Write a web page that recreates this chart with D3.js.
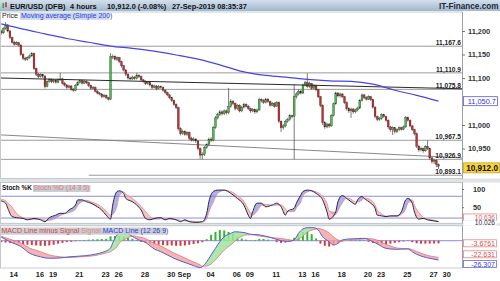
<!DOCTYPE html>
<html><head><meta charset="utf-8">
<script src="https://cdn.jsdelivr.net/npm/d3@7"></script>
<style>body{margin:0;background:#fff;overflow:hidden}svg{display:block;font-family:"Liberation Sans",Arial,sans-serif}</style>
</head><body><svg id="c" width="500" height="281"></svg>
<script>
// ---------- DATA ----------
const firstOpen = 11200;
const closes = [11196,11205,11213,11200,11186,11176,11172,11175,11170,11150,
11142,11140,11143,11147,11152,11120,11108,11103,11107,11104,
11082,11093,11097,11092,11095,11091,11096,11098,11089,11085,
11080,11083,11076,11074,11085,11090,11094,11089,11093,11090,
11084,11078,11080,11072,11068,11066,11060,11063,11058,11055,
11145,11146,11140,11143,11135,11126,11117,11108,11100,11098,
11102,11099,11106,11103,11096,11093,11088,11090,11085,11080,
11083,11078,11082,11080,11074,11069,11064,11058,11052,11044,
11037,10992,10982,10986,10980,10984,10972,10968,10970,10966,
10950,10936,10938,10952,10958,10970,10968,10995,11015,11022,
11028,11024,11030,11026,11040,11050,11046,11035,11042,11030,
11038,11044,11040,11035,11030,11033,11028,11032,11054,11052,
11048,11055,11050,11042,11046,11040,11048,11008,10994,10998,
11008,11012,11020,11018,11060,11066,11072,11068,11085,11090,
11082,11088,11078,11084,11075,11060,11042,11005,10996,11002,
10998,11020,11045,11068,11062,11066,11060,11048,11035,11030,
11034,11028,11032,11036,11052,11064,11058,11055,11060,11054,
11038,11018,11012,11014,11022,11018,11010,10996,10990,10994,
10986,10990,10994,10991,10996,11016,11010,10998,10990,10982,
10955,10947,10950,10945,10954,10950,10930,10922,10925,10916,
10912];
const highs = [11203,11208,11219,11215,11202,11188,11179,11178,11177,11172,
11153,11145,11146,11150,11155,11154,11122,11111,11110,11109,
11106,11095,11100,11099,11098,11097,11099,11111,11100,11092,
11087,11086,11085,11079,11087,11093,11097,11096,11096,11095,
11092,11086,11083,11082,11074,11070,11068,11066,11065,11060,
11153,11150,11148,11146,11145,11137,11128,11119,11110,11103,
11105,11104,11111,11108,11105,11098,11095,11093,11092,11087,
11086,11085,11085,11084,11082,11076,11071,11066,11060,11054,
11046,11039,10995,10990,10989,10987,10986,10975,10974,10972,
10968,10952,10942,10955,10961,10973,10974,10998,11019,11026,
11032,11031,11033,11033,11079,11055,11053,11048,11045,11044,
11041,11047,11046,11043,11037,11036,11035,11035,11058,11057,
11055,11058,11057,11052,11049,11048,11051,11050,11010,11002,
11011,11015,11023,11022,11087,11070,11076,11075,11088,11094,
11110,11092,11090,11087,11086,11077,11062,11044,11008,11005,
11004,11023,11048,11071,11070,11069,11068,11062,11050,11038,
11037,11036,11035,11039,11055,11067,11066,11061,11063,11062,
11056,11040,11020,11017,11025,11024,11020,11012,10998,10997,
10996,10993,10997,10996,10999,11019,11018,11012,11000,10992,
10984,10958,10954,10952,10957,10967,10952,10932,10928,10927,
10918];
const lows = [11192,11194,11203,11197,11183,11173,11169,11170,11167,11147,
11138,11136,11137,11141,11145,11117,11104,11100,11101,11100,
11078,11080,11090,11089,11089,11088,11089,11094,11086,11082,
11077,11078,11073,11071,11072,11083,11088,11086,11087,11087,
11081,11075,11076,11069,11065,11063,11057,11058,11055,11052,
11053,11140,11137,11136,11132,11122,11114,11104,11097,11095,
11096,11096,11097,11100,11093,11090,11085,11086,11082,11076,
11078,11074,11076,11077,11071,11066,11061,11055,11049,11041,
11034,10988,10978,10979,10977,10977,10968,10965,10965,10962,
10946,10928,10927,10934,10949,10955,10964,10965,10992,11012,
11019,11020,11021,11022,11023,11037,11042,11031,11032,11027,
11027,11035,11037,11032,11026,11027,11024,11025,11030,11048,
11045,11046,11047,11039,11040,11037,11038,11004,10985,10990,
10995,11005,11009,11014,10927,11056,11063,11065,11066,11082,
11079,11079,11075,11076,11072,11057,11038,11000,10992,10993,
10994,10996,11018,11043,11059,11058,11057,11045,11031,11026,
11015,11024,11025,11029,11034,11050,11055,11052,11053,11051,
11035,11014,11008,11009,11011,11015,11007,10992,10986,10979,
10982,10983,10987,10988,10989,10994,11007,10995,10987,10978,
10951,10943,10944,10941,10943,10947,10926,10918,10917,10910,
10906];

const maIdx = [0,10,20,30,40,50,60,70,80,90,100,110,120,130,140,150,160,170,180,190,200];
const maVals = [11215,11204,11194,11184,11176,11168,11163,11157,11149,11140,11128,11114,11106,11102,11097,11094,11093,11087,11074,11063,11050.7];

const levels = [11167.6, 11110.9, 11075.8, 10967.5, 10926.9, 10893.1];
const levelFrom = [-0.55, -0.55, -0.55, -0.55, -0.55, 40];
const trendDark = [[-0.55, 11100], [210.75, 11077]];
const trendGrey = [[-0.55, 10979], [210.75, 10930]];

const priceTicks = [11200, 11150, 11100, 11000, 10950];
const lastPrice = 10912.0;
const maLast = 11050.7;

const dayLabels = ["14","16","19","21","23","26","28","30","Sep","04","06","09","11","13","16","18","20","23","25","27","30"];
const dayOffsets = [0,2,3,5,7,8,10,12,13,15,17,18,20,22,23,25,27,28,30,32,33];

const stochIdx = [0,2,3,5,7,10,12,15,18,20,22,25,27,29,31,34,35,37,39,41,44,46,48,50,51,53,54,56,57,60,62,64,66,68,70,73,75,77,80,82,84,86,89,92,94,95,97,99,102,105,108,111,113,114,115,117,119,121,124,126,128,130,131,134,135,137,138,140,142,144,147,149,150,153,154,156,158,160,162,163,165,166,169,171,172,174,176,178,181,183,185,186,188,189,191,193,195,198,200];
const stochK = [67,61,47,24,21,19,15,19,15,10,21,28,33,33,42,56,70,70,65,61,51,42,28,17,56,93,95,88,74,65,56,42,19,15,19,21,15,19,15,10,15,10,8,10,33,65,93,97,97,88,74,56,28,19,37,61,61,51,56,61,51,28,39,47,61,83,93,97,95,88,70,37,17,37,65,82,74,65,58,70,79,74,61,47,28,26,24,26,26,37,70,74,61,37,17,19,15,12,10.026];
const stochD = [72,68,62,50,33,21,18,17,17,14,14,20,27,32,35,44,55,65,69,65,58,50,39,28,30,55,82,92,86,74,64,52,38,24,17,18,18,17,16,14,12,12,10,9,18,37,64,88,96,93,82,66,44,34,28,39,55,58,55,56,56,45,38,38,48,64,81,92,95,92,80,60,40,30,40,62,75,72,64,64,70,75,70,56,42,32,25,25,25,30,45,62,70,55,35,22,17,14,10.636];
const stochTicks = [100, 50];

const macdIdx = [0,4,9,13,18,22,27,31,36,41,45,48,50,51,53,54,57,59,61,63,66,68,70,73,76,79,82,85,88,91,92,94,96,98,100,102,105,107,109,112,114,118,123,128,131,134,136,138,140,143,145,147,150,152,154,156,159,161,163,166,168,170,173,175,178,181,183,186,188,190,193,196,200];
const macdLine = [5,-1.4,-8,-17,-22,-24,-23.5,-22,-21,-19.5,-17,-14,-10,-3,7.8,10,10.5,7.8,4,1,-2.2,-6.8,-11.3,-15,-19.5,-24,-27.6,-30.7,-34,-36.7,-35.4,-28.6,-19.5,-10.3,-1.3,5.4,10,12.2,11.8,10.5,8.8,8,4.6,0,-1,1,10,16,17.7,17.7,14.6,5.4,-1.4,-5.9,-3.6,1,2.3,2.5,3,3.2,1.5,-1.4,-5.9,-9.5,-11.3,-11.7,-11.5,-11.3,-15,-18.5,-21.8,-24,-26.307];
const signalLine = [6,2,-3,-10,-15,-19.5,-22,-23,-22,-21,-19,-16.7,-15,-13,-8,-3,2.3,5.7,6.4,5,3,-0.4,-3.8,-7.2,-12,-16.7,-20.8,-25,-29,-33,-34.7,-34.4,-31.7,-26,-19.5,-12.7,-5.8,-0.4,4.4,7.8,8.3,6.4,4.5,3,1.6,0.3,2.3,6.4,11.8,15.2,16.6,15.2,10.5,5,1,-0.4,1,1,1.6,2.3,3,2.3,-0.4,-3.8,-7.2,-9.9,-10.6,-10.8,-12,-14.7,-18.1,-20.8,-22.631];
const histStep = 2;
const hist = [-2,-2.5,-3,-3.5,-4,-5,-5.5,-6,-6.5,-7,
-7,-6.5,-5.5,-4,-3,-2,-1.5,-0.8,0.5,1,
1.5,1.8,2,2.3,2.5,6,6.5,6.5,5.5,4,
2.5,1,-1.5,-3,-4,-5,-5.5,-6,-6.5,-6.5,
-7,-7,-6.5,-5.5,-4.5,-3.5,-2,2,8,12,
14.5,14,12,9,5.5,3,1.5,0.5,1,2.5,
2.5,1.5,0,-2,-3,-2.5,-1,4,9,12,
12,9,3,-4,-7,-8,-6,-3,-1,0.5,
1.5,1.5,1,0.5,-1.5,-3,-4.5,-5,-5,-4,
-3,-2,-1,-0.5,-2,-3.5,-4,-4,-4,-3.8,
-3.6761];

// ---------- CHART ----------
const svg = d3.select("#c");
const defs = svg.append("defs");
const g1 = defs.append("linearGradient").attr("id","hdr").attr("x1",0).attr("y1",0).attr("x2",0).attr("y2",1);
g1.append("stop").attr("offset","0%").attr("stop-color","#d3e0ec");
g1.append("stop").attr("offset","100%").attr("stop-color","#9fb8cf");

const RX = 462;
const xS = d3.scaleLinear().domain([-0.55, 210.75]).range([0, RX]);
const yP = d3.scaleLinear().domain([11000, 11200]).range([125, 31]);
const yS = d3.scaleLinear().domain([0, 100]).range([225.3, 189]);
const yM = d3.scaleLinear().domain([0, -26.307]).range([240.7, 260]);

function clip(id, y0, y1){
  defs.append("clipPath").attr("id",id).append("rect").attr("x",1).attr("y",y0).attr("width",RX-1).attr("height",y1-y0);
}
clip("cpP", 12, 178.5); clip("cpS", 183, 223.5); clip("cpM", 226, 268);

// backgrounds and separators
svg.append("rect").attr("width",500).attr("height",281).attr("fill","#fff");
svg.append("rect").attr("x",0).attr("y",178.5).attr("width",500).attr("height",4).attr("fill","#dfe3e7");
svg.append("rect").attr("x",0).attr("y",223.3).attr("width",500).attr("height",2.5).attr("fill","#dfe3e7");
[[12,178.5],[182.5,223.3],[225.8,268]].forEach(([a,b])=>{
  svg.append("rect").attr("x",0.5).attr("y",a).attr("width",RX).attr("height",b-a)
    .attr("fill","none").attr("stroke","#b8bec4").attr("stroke-width",0.8);
});

// header
svg.append("rect").attr("x",0).attr("y",0).attr("width",500).attr("height",11).attr("fill","url(#hdr)");
svg.append("rect").attr("x",2.5).attr("y",3).attr("width",1.6).attr("height",5).attr("fill","#2faa2f");
svg.append("rect").attr("x",5.2).attr("y",2.2).attr("width",1.6).attr("height",5).attr("fill","#d23030");
const hdr = [["EUR/USD (DFB)",10],["4 hours",70],["10,912.0 (-0.08%)",107],["27-Sep-2019 08:35:37",172]];
hdr.forEach(([t,x])=>svg.append("text").attr("x",x).attr("y",8.5).attr("font-size",7.4).attr("font-weight","bold").attr("fill","#111").text(t));
svg.append("text").attr("x",498.5).attr("y",8.6).attr("text-anchor","end").attr("font-size",8.2).attr("font-weight","bold").attr("fill","#1d2a36").text("IT-Finance.com");

// ---- price panel ----
const gp = svg.append("g").attr("clip-path","url(#cpP)");
levels.forEach((v,k)=>{
  gp.append("line").attr("x1",xS(levelFrom[k])).attr("x2",RX).attr("y1",yP(v)).attr("y2",yP(v))
    .attr("stroke","#8e8e8e").attr("stroke-width",0.9);
});
gp.append("line").attr("x1",xS(trendGrey[0][0])).attr("y1",yP(trendGrey[0][1])).attr("x2",xS(trendGrey[1][0])).attr("y2",yP(trendGrey[1][1]))
  .attr("stroke","#7a7a7a").attr("stroke-width",0.9);

const opens = [firstOpen].concat(closes.slice(0,-1));
const idx = d3.range(closes.length);
gp.selectAll("line.wick").data(idx).join("line").attr("class","wick")
  .attr("x1",i=>xS(i)).attr("x2",i=>xS(i)).attr("y1",i=>yP(highs[i])).attr("y2",i=>yP(lows[i]))
  .attr("stroke","#444").attr("stroke-width",0.7);
gp.selectAll("rect.body").data(idx).join("rect").attr("class","body")
  .attr("x",i=>xS(i)-0.9).attr("width",1.8)
  .attr("y",i=>yP(Math.max(opens[i],closes[i])))
  .attr("height",i=>Math.max(0.8, Math.abs(yP(opens[i])-yP(closes[i]))))
  .attr("fill",i=>closes[i]>=opens[i]?"#46c046":"#d02a2a")
  .attr("stroke","#2a2a2a").attr("stroke-width",0.35);

gp.append("line").attr("x1",xS(trendDark[0][0])).attr("y1",yP(trendDark[0][1])).attr("x2",xS(trendDark[1][0])).attr("y2",yP(trendDark[1][1]))
  .attr("stroke","#2a2a2a").attr("stroke-width",1.1);

const maLine = d3.line().x((d,k)=>xS(maIdx[k])).y(d=>yP(d)).curve(d3.curveMonotoneX);
gp.append("path").attr("d",maLine(maVals)).attr("fill","none").attr("stroke","#4646e6").attr("stroke-width",1.2);

// level labels
levels.forEach(v=>{
  svg.append("text").attr("x",RX-1).attr("y",yP(v)-1.3).attr("text-anchor","end")
    .attr("font-size",6.6).attr("font-weight","bold").attr("fill","#222").text(d3.format(",.1f")(v));
});
// price title
svg.append("text").attr("x",2).attr("y",18.3).attr("font-size",7).attr("fill","#222").text("Price");
svg.append("rect").attr("x",20).attr("y",12.8).attr("width",89).attr("height",7).attr("fill","#cdd7ec");
svg.append("text").attr("x",21).attr("y",18.3).attr("font-size",7).attr("fill","#2b3fdc").text("Moving average (Simple 200)");

// right price axis
const axP = svg.append("g").attr("transform",`translate(${RX},0)`)
  .call(d3.axisRight(yP).tickValues(priceTicks).tickSize(3).tickFormat(d3.format(",")));
axP.select(".domain").attr("stroke","#9aa0a6").attr("d","M0.5,12V178.5");
axP.selectAll(".tick line").attr("stroke","#777");
axP.selectAll(".tick text").attr("x",6).attr("font-size",7.4).attr("font-weight","bold").attr("fill","#333").attr("font-family","Liberation Sans, Arial, sans-serif");

function valBox(y, txt, opt){
  const w = opt.w || 35;
  svg.append("rect").attr("x",opt.x||463.5).attr("y",y-opt.h/2).attr("width",w).attr("height",opt.h)
    .attr("fill",opt.fill).attr("stroke",opt.stroke||"none").attr("stroke-width",0.8);
  svg.append("text").attr("x",(opt.x||463.5)+w-1.5).attr("y",y+opt.fs*0.36).attr("text-anchor","end")
    .attr("font-size",opt.fs).attr("font-weight",opt.bold?"bold":"normal").attr("fill",opt.color).text(txt);
}
valBox(yP(maLast), d3.format(",.1f")(maLast), {h:9,fill:"#fff",stroke:"#5a5ae6",color:"#3434d8",fs:7.4,bold:false,w:34});
valBox(yP(lastPrice)+1.5, d3.format(",.1f")(lastPrice), {h:10,fill:"#f7d43c",stroke:"#c9a920",color:"#111",fs:8.2,bold:true,w:36});

// ---- stochastic panel ----
const gs = svg.append("g").attr("clip-path","url(#cpS)");
[80,20].forEach(v=>gs.append("line").attr("x1",0).attr("x2",RX).attr("y1",yS(v)).attr("y2",yS(v)).attr("stroke","#8c8ce0").attr("stroke-width",1));
const sPts = stochIdx.map((i,k)=>({i,k:stochK[k],d:stochD[k]}));
const cv = d3.curveMonotoneX;
gs.append("path").attr("d",d3.area().x(p=>xS(p.i)).y0(p=>yS(p.d)).y1(p=>yS(Math.max(p.k,p.d))).curve(cv)(sPts))
  .attr("fill","#7a7ae0").attr("opacity",0.6);
gs.append("path").attr("d",d3.area().x(p=>xS(p.i)).y0(p=>yS(p.d)).y1(p=>yS(Math.min(p.k,p.d))).curve(cv)(sPts))
  .attr("fill","#f2a8a8").attr("opacity",0.7);
gs.append("path").attr("d",d3.line().x(p=>xS(p.i)).y(p=>yS(p.d)).curve(cv)(sPts)).attr("fill","none").attr("stroke","#e59090").attr("stroke-width",0.9);
gs.append("path").attr("d",d3.line().x(p=>xS(p.i)).y(p=>yS(p.k)).curve(cv)(sPts)).attr("fill","none").attr("stroke","#23264a").attr("stroke-width",1);

svg.append("text").attr("x",2).attr("y",190.3).attr("font-size",6.4).attr("font-weight","bold").attr("fill","#111").text("Stoch %K");
svg.append("rect").attr("x",33).attr("y",185).attr("width",57.5).attr("height",7).attr("fill","#c9ced4");
svg.append("text").attr("x",33.8).attr("y",190.3).attr("font-size",6.8).attr("fill","#e07a7a").text("Stoch %D (14 3 5)");

const axS = svg.append("g").attr("transform",`translate(${RX},0)`)
  .call(d3.axisRight(yS).tickValues(stochTicks).tickSize(2).tickFormat(d3.format("d")));
axS.select(".domain").attr("stroke","#9aa0a6").attr("d","M0.5,182.5V223.3");
axS.selectAll(".tick line").attr("stroke","#777");
axS.selectAll(".tick text").attr("x",11).attr("font-size",7.4).attr("font-weight","bold").attr("fill","#333").attr("font-family","Liberation Sans, Arial, sans-serif");
valBox(217.2, d3.format(".3f")(stochD[stochD.length-1]), {h:6.5,fill:"#fff",stroke:"#e08a8a",color:"#d86060",fs:6.6,w:33});
valBox(222.9, d3.format(".3f")(stochK[stochK.length-1]), {h:5.5,fill:"#fff",stroke:"none",color:"#2a2e55",fs:6.6,w:33});

// ---- MACD panel ----
const gm = svg.append("g").attr("clip-path","url(#cpM)");
gm.append("line").attr("x1",0).attr("x2",RX).attr("y1",yM(0)).attr("y2",yM(0)).attr("stroke","#8c8ce0").attr("stroke-width",1);
const hIdx = hist.map((v,k)=>k*histStep);
gm.selectAll("rect.h").data(hist).join("rect").attr("class","h")
  .attr("x",(v,k)=>xS(hIdx[k])-1).attr("width",2)
  .attr("y",v=>Math.min(yM(v),yM(0))).attr("height",v=>Math.abs(yM(v)-yM(0)))
  .attr("fill",v=>v>=0?"#33b533":"#d63a3a");
const mPts = macdIdx.map((i,k)=>({i,m:macdLine[k],s:signalLine[k]}));
gm.append("path").attr("d",d3.area().x(p=>xS(p.i)).y0(p=>yM(p.s)).y1(p=>yM(Math.max(p.m,p.s))).curve(cv)(mPts))
  .attr("fill","#9fe59f").attr("opacity",0.85);
gm.append("path").attr("d",d3.area().x(p=>xS(p.i)).y0(p=>yM(p.s)).y1(p=>yM(Math.min(p.m,p.s))).curve(cv)(mPts))
  .attr("fill","#f2a0a0").attr("opacity",0.8);
gm.append("path").attr("d",d3.line().x(p=>xS(p.i)).y(p=>yM(p.s)).curve(cv)(mPts)).attr("fill","none").attr("stroke","#e28080").attr("stroke-width",0.9);
gm.append("path").attr("d",d3.line().x(p=>xS(p.i)).y(p=>yM(p.m)).curve(cv)(mPts)).attr("fill","none").attr("stroke","#5a5ad8").attr("stroke-width",1);

svg.append("rect").attr("x",0.5).attr("y",227.5).attr("width",166).attr("height",7.2).attr("fill","#c9ced4");
const mt = svg.append("text").attr("x",1.5).attr("y",233).attr("font-size",7);
mt.append("tspan").attr("fill","#d84848").text("MACD Line minus Signal ");
mt.append("tspan").attr("fill","#e28888").text("Signal ");
mt.append("tspan").attr("fill","#3a3ad0").text("MACD Line (12 26 9)");

svg.append("line").attr("x1",RX+0.5).attr("x2",RX+0.5).attr("y1",225.8).attr("y2",268).attr("stroke","#9aa0a6");
valBox(243.3, String(hist[hist.length-1]), {h:7,fill:"#fff",stroke:"#e08a8a",color:"#d85050",fs:7,w:33});
valBox(254.3, String(signalLine[signalLine.length-1]), {h:7,fill:"#fff",stroke:"#e08a8a",color:"#d85050",fs:7,w:33});
valBox(264, String(macdLine[macdLine.length-1]), {h:7,fill:"#fff",stroke:"#6a6ae0",color:"#3a3ad0",fs:7,w:33});

// ---- bottom date axis ----
const dayIdx = dayOffsets.map(o=>5.5+6*o);
const axX = svg.append("g").attr("transform","translate(0,268)")
  .call(d3.axisBottom(xS).tickValues(dayIdx).tickSize(0).tickFormat((d,k)=>dayLabels[k]));
axX.select(".domain").remove();
axX.selectAll(".tick text").attr("y",4).attr("dy","0.71em").attr("font-size",7.4).attr("font-weight","bold").attr("fill","#222").attr("font-family","Liberation Sans, Arial, sans-serif");
</script></body></html>
